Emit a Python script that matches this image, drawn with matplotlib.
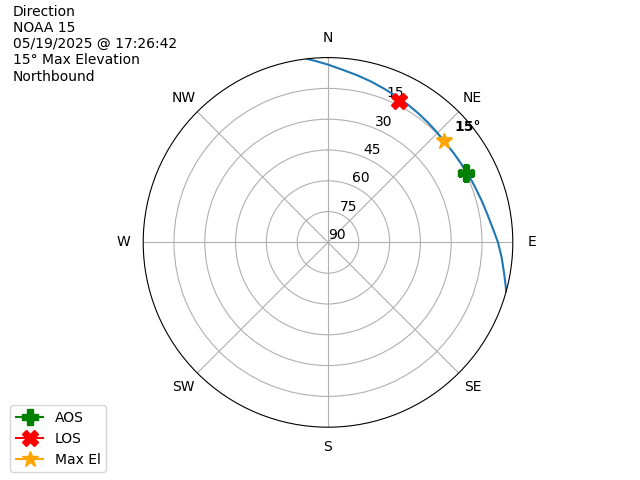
#!/usr/bin/env python3
# pass_plot.py

import matplotlib
matplotlib.use("Agg")
import matplotlib.pyplot as plt
import numpy as np

# satellite track (azimuth deg, elevation deg)
track_az = [-6.6, -4.0, 0.0, 5.0, 10.0, 15.0, 20.0, 25.0, 30.0, 35.0, 40.0,
            45.0, 50.0, 55.0, 60.0, 65.0, 70.0, 75.0, 80.0, 85.0, 90.0,
            95.0, 100.0, 104.1, 105.4]
track_el = [0.0, 1.4, 3.4, 5.7, 7.4, 8.9, 10.3, 11.4, 12.4, 13.3, 14.0,
            14.6, 15.0, 14.9, 14.6, 14.0, 13.4, 12.4, 11.2, 9.5, 7.2,
            5.1, 2.9, 0.7, 0.0]

aos_az, aos_el = 63.3, 14.5
los_az, los_el = 26.7, 12.9
max_az, max_el = 48.9, 15.0

compass = ["N", "NE", "E", "SE", "S", "SW", "W", "NW"]
el_ticks = [15, 30, 45, 60, 75, 90]

title_lines = ["Direction", "NOAA 15", "05/19/2025 @ 17:26:42",
               "15\u00b0 Max Elevation", "Northbound"]


def plot(ax):
    ax.set_theta_zero_location("N")
    ax.set_theta_direction(-1)

    ax.plot(np.radians(track_az), track_el, color="C0")
    ax.plot(np.radians(aos_az), aos_el, marker="P", color="green",
            markersize=12, label="AOS")
    ax.plot(np.radians(los_az), los_el, marker="X", color="red",
            markersize=12, label="LOS")
    ax.plot(np.radians(max_az), max_el, marker="*", color="orange",
            markersize=12, label="Max El")
    ax.text(np.radians(50.5), 1.8, f"{max_el:.0f}\u00b0", fontweight="bold",
            ha="center", va="center")

    ax.set_rlim(90, 0)
    ax.set_rticks(el_ticks)
    ax.set_thetagrids(np.arange(0, 360, 45), compass)


def main():
    fig = plt.figure(figsize=(6.4, 4.8), dpi=100)
    ax = fig.add_subplot(111, projection="polar")
    plot(ax)
    fig.text(0.02, 0.99, "\n".join(title_lines), ha="left", va="top")
    fig.legend(loc="lower left", bbox_to_anchor=(0.005, 0.002))
    fig.savefig("out.png")


if __name__ == "__main__":
    main()
